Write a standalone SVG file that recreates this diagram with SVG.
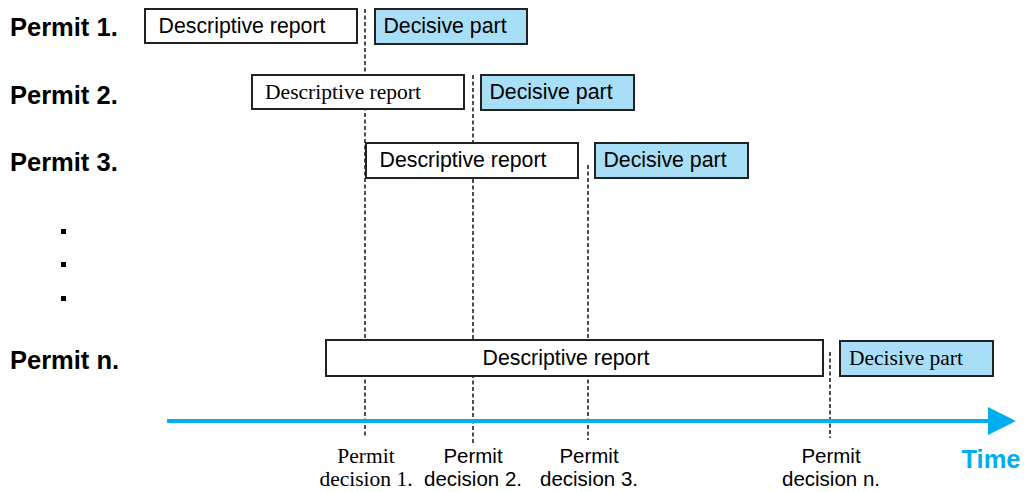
<svg xmlns="http://www.w3.org/2000/svg" width="1027" height="492" viewBox="0 0 1027 492">
  <style>
    .lbl { font-family: "Liberation Sans", Arial, sans-serif; font-weight: bold; font-size: 25.5px; fill: #000; }
    .sans { font-family: "Liberation Sans", Arial, sans-serif; font-size: 21.3px; fill: #000; }
    .foot { font-family: "Liberation Sans", Arial, sans-serif; font-size: 20.5px; fill: #000; }
    .serif { font-family: "Liberation Serif", "Times New Roman", serif; font-size: 21.5px; fill: #000; }
    .desc { fill: #fff; stroke: #222; stroke-width: 2; }
    .dec { fill: #a9def7; stroke: #222; stroke-width: 2; }
    .dash { stroke: #222; stroke-width: 1.6; stroke-dasharray: 4 2.5; fill: none; }
    .time { fill: #00aeef; stroke: none; }
  </style>

  <rect width="1027" height="492" fill="#fff"/>

  <!-- decision markers and time axis -->
  <g id="connectors">
    <line class="dash" x1="365" y1="9" x2="365" y2="438"/>
    <line class="dash" x1="473" y1="75" x2="473" y2="445"/>
    <line class="dash" x1="588" y1="165" x2="588" y2="440"/>
    <line class="dash" x1="830" y1="352" x2="830" y2="438"/>
    <line x1="167" y1="421" x2="995" y2="421" stroke="#00aeef" stroke-width="4"/>
    <polygon class="time" points="988,407 1016,421 988,435"/>
  </g>

  <g id="permit1">
    <text class="lbl" x="10" y="36">Permit 1.</text>
    <rect class="desc" x="145" y="9" width="212" height="34"/>
    <text class="sans" x="242" y="33" text-anchor="middle">Descriptive report</text>
    <rect class="dec" x="375" y="9" width="152" height="35"/>
    <text class="sans" x="445" y="33" text-anchor="middle">Decisive part</text>
  </g>

  <g id="permit2">
    <text class="lbl" x="10" y="104">Permit 2.</text>
    <rect class="desc" x="252" y="75" width="212" height="34"/>
    <text class="serif" x="343" y="99" text-anchor="middle">Descriptive report</text>
    <rect class="dec" x="481" y="75" width="153" height="35"/>
    <text class="sans" x="551" y="99" text-anchor="middle">Decisive part</text>
  </g>

  <g id="permit3">
    <text class="lbl" x="10" y="171">Permit 3.</text>
    <rect class="desc" x="366" y="143" width="212" height="35"/>
    <text class="sans" x="463" y="167" text-anchor="middle">Descriptive report</text>
    <rect class="dec" x="595" y="143" width="153" height="35"/>
    <text class="sans" x="665" y="167" text-anchor="middle">Decisive part</text>
  </g>

  <g id="ellipsis">
    <rect x="61" y="229" width="5" height="5" fill="#000"/>
    <rect x="61" y="262" width="5" height="5" fill="#000"/>
    <rect x="61" y="296" width="5" height="5" fill="#000"/>
  </g>

  <g id="permitn">
    <text class="lbl" x="10" y="369">Permit n.</text>
    <rect class="desc" x="326" y="340" width="497" height="36"/>
    <text class="sans" x="566" y="365" text-anchor="middle">Descriptive report</text>
    <rect class="dec" x="840" y="341" width="153" height="35"/>
    <text class="serif" x="906" y="365" text-anchor="middle">Decisive part</text>
  </g>

  <g id="decision1">
    <text class="serif" x="366" y="463" text-anchor="middle">Permit</text>
    <text class="serif" x="366" y="486" text-anchor="middle">decision 1.</text>
  </g>
  <g id="decision2">
    <text class="foot" x="473" y="463" text-anchor="middle">Permit</text>
    <text class="foot" x="473" y="486" text-anchor="middle">decision 2.</text>
  </g>
  <g id="decision3">
    <text class="foot" x="589" y="463" text-anchor="middle">Permit</text>
    <text class="foot" x="589" y="486" text-anchor="middle">decision 3.</text>
  </g>
  <g id="decisionn">
    <text class="foot" x="831" y="463" text-anchor="middle">Permit</text>
    <text class="foot" x="831" y="486" text-anchor="middle">decision n.</text>
  </g>

  <g id="timelabel">
    <text x="991" y="468" text-anchor="middle" font-family="Liberation Sans, Arial, sans-serif" font-weight="bold" font-size="25.5" fill="#00aeef">Time</text>
  </g>
</svg>
